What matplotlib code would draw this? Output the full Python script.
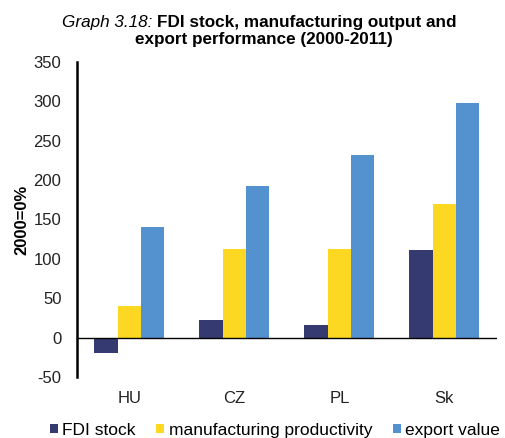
import matplotlib
matplotlib.use("Agg")
import matplotlib.pyplot as plt
import numpy as np

plt.rcParams['font.family'] = ['Liberation Sans', 'DejaVu Sans']
plt.rcParams['axes.unicode_minus'] = False

# data
countries = ['HU', 'CZ', 'PL', 'Sk']
fdi_stock = [-19, 22, 16, 111]
manuf_productivity = [40.5, 113, 112, 169]
export_value = [141, 192, 232, 298]

series_names = ['FDI stock', 'manufacturing productivity', 'export value']
colors = ['#353B71', '#FDD822', '#5492CF']

fig = plt.figure(figsize=(5.05, 4.38), dpi=100)
ax = fig.add_axes([0.152, 0.139, 0.832, 0.720])

x = np.arange(len(countries))
width = 0.222
for i, (vals, name, col) in enumerate(zip([fdi_stock, manuf_productivity, export_value],
                                          series_names, colors)):
    ax.bar(x + (i - 1) * width, vals, width, color=col, label=name)

ax.set_xlim(-0.5, len(countries) - 0.5)
ax.set_ylim(-50, 350)
ax.set_yticks(range(-50, 351, 50))
ax.set_xticks(x)
ax.set_xticklabels(countries)
ax.tick_params(axis='both', length=0, labelsize=12, colors='#222222')
ax.tick_params(axis='y', pad=11)
ax.tick_params(axis='x', pad=10)

for s in ['top', 'right', 'bottom']:
    ax.spines[s].set_visible(False)
ax.spines['left'].set_linewidth(1.8)
ax.axhline(0, color='black', linewidth=1.0)

ax.set_ylabel('2000=0%', fontsize=12, fontweight='bold', labelpad=3)

# title: italic prefix + bold remainder
t1 = fig.text(0.122, 0.938, 'Graph 3.18: ', fontsize=12.3, style='italic', ha='left', va='baseline')
fig.canvas.draw()
bb = t1.get_window_extent()
fig.text(bb.x1 / fig.bbox.width, 0.938, 'FDI stock, manufacturing output and',
         fontsize=12.3, fontweight='bold', ha='left', va='baseline')
fig.text(0.523, 0.899, 'export performance (2000-2011)', fontsize=12.3,
         fontweight='bold', ha='center', va='baseline')

ax.legend(loc='center', bbox_to_anchor=(0.472, -0.168), ncol=3, frameon=False,
          fontsize=12.5, handlelength=0.46, handleheight=0.46, handletextpad=0.25,
          columnspacing=1.2, borderaxespad=0, borderpad=0)

fig.savefig('out.png', dpi=100)
